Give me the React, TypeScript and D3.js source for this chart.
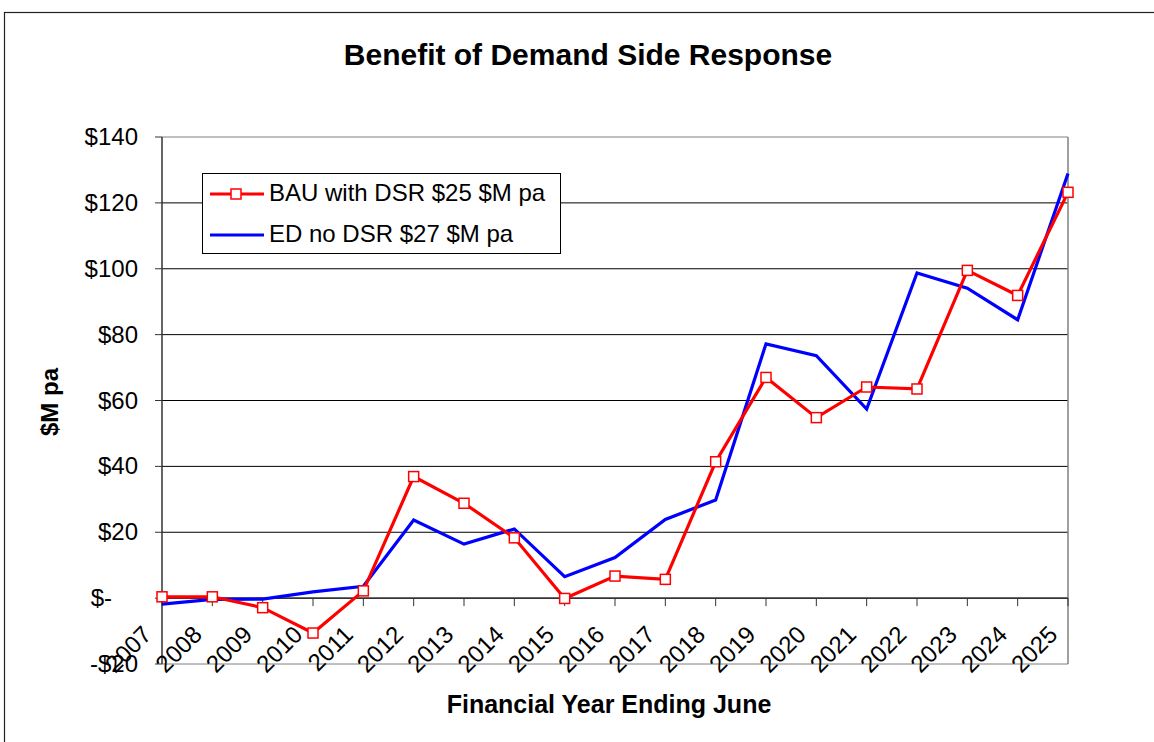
import React from "react";
import * as d3 from "d3";

const years = ["2007","2008","2009","2010","2011","2012","2013","2014","2015","2016","2017","2018","2019","2020","2021","2022","2023","2024","2025"];
const bauWithDsr = [0.4, 0.4, -2.9, -10.6, 2.2, 36.9, 28.8, 18.3, -0.1, 6.7, 5.7, 41.4, 67.0, 54.8, 64.1, 63.5, 99.5, 91.9, 123.2];
const edNoDsr = [-1.8, -0.4, -0.3, 1.9, 3.6, 23.7, 16.4, 21.0, 6.5, 12.3, 23.9, 29.8, 77.2, 73.6, 57.4, 98.7, 94.1, 84.5, 128.9];
const yTicks = [-20, 0, 20, 40, 60, 80, 100, 120, 140];
const legendLabels = ["BAU with DSR $25 $M pa", "ED no DSR $27 $M pa"];

const W = 1154;
const H = 742;
const font = "'Liberation Sans', Arial, sans-serif";

// accounting style: zero shows as "$-" padded by two digit widths
const fmt = (v: number) => (v === 0 ? "$-" : v < 0 ? `-$${-v}` : `$${v}`);

export default function App() {
  const left = 162, right = 1068, top = 137, bottom = 664;

  const x = d3.scalePoint<string>().domain(years).range([left, right]);
  const y = d3.scaleLinear().domain([-20, 140]).range([bottom, top]);

  const line = d3.line<number>()
    .x((_, i) => x(years[i]) as number)
    .y(d => y(d));

  const y0 = y(0);

  return (
    <svg width={W} height={H} style={{ position: "absolute", left: 0, top: 0, background: "#fff" }}>
      {/* chart frame */}
      <rect x={4.5} y={12.5} width={W + 10} height={H + 10} fill="#fff" stroke="#222" strokeWidth={1.2} />

      <text x={588} y={65} textAnchor="middle" fontFamily={font} fontWeight="bold" fontSize={30}>
        Benefit of Demand Side Response
      </text>

      {/* gridlines */}
      {yTicks.map(t => (
        <line key={t} x1={left} x2={right} y1={y(t)} y2={y(t)}
          stroke={t === -20 || t === 140 ? "#808080" : "#000"} strokeWidth={1} />
      ))}
      <line x1={right} x2={right} y1={top} y2={bottom} stroke="#808080" strokeWidth={1.5} />

      {/* y axis */}
      <line x1={left} x2={left} y1={top} y2={bottom} stroke="#333" strokeWidth={1.5} />
      {yTicks.map(t => (
        <g key={t}>
          <line x1={left - 7} x2={left} y1={y(t)} y2={y(t)} stroke="#333" strokeWidth={1} />
          <text x={t === 0 ? 112 : 138} y={y(t) + 8} textAnchor="end" fontFamily={font} fontSize={24}>{fmt(t)}</text>
        </g>
      ))}

      {/* x axis at zero */}
      <line x1={left} x2={right} y1={y0} y2={y0} stroke="#333" strokeWidth={1.5} />
      {years.map(yr => (
        <g key={yr}>
          <line x1={x(yr)} x2={x(yr)} y1={y0} y2={y0 + 8} stroke="#333" strokeWidth={1} />
          <text transform={`translate(${(x(yr) as number) - 9},${y0 + 38}) rotate(-45)`}
            textAnchor="end" fontFamily={font} fontSize={24}>{yr}</text>
        </g>
      ))}

      {/* series */}
      <path d={line(edNoDsr) || ""} fill="none" stroke="#0000ff" strokeWidth={3.2} strokeLinejoin="miter" />
      <path d={line(bauWithDsr) || ""} fill="none" stroke="#ff0000" strokeWidth={3.2} strokeLinejoin="miter" />
      {bauWithDsr.map((v, i) => (
        <rect key={i} x={(x(years[i]) as number) - 5} y={y(v) - 5} width={10} height={10}
          fill="#fff" stroke="#ff0000" strokeWidth={1.5} />
      ))}

      {/* legend */}
      <rect x={202.5} y={173.5} width={358} height={80} fill="#fff" stroke="#000" strokeWidth={1} />
      <line x1={210} x2={264} y1={194} y2={194} stroke="#ff0000" strokeWidth={3.2} />
      <rect x={231} y={189} width={10} height={10} fill="#fff" stroke="#ff0000" strokeWidth={1.5} />
      <text x={269} y={201} fontFamily={font} fontSize={24}>{legendLabels[0]}</text>
      <line x1={210} x2={264} y1={235} y2={235} stroke="#0000ff" strokeWidth={3.2} />
      <text x={269} y={242} fontFamily={font} fontSize={24}>{legendLabels[1]}</text>

      {/* axis titles */}
      <text transform="translate(58,402) rotate(-90)" textAnchor="middle" fontFamily={font} fontWeight="bold" fontSize={24}>
        $M pa
      </text>
      <text x={609} y={713} textAnchor="middle" fontFamily={font} fontWeight="bold" fontSize={25}>
        Financial Year Ending June
      </text>
    </svg>
  );
}
